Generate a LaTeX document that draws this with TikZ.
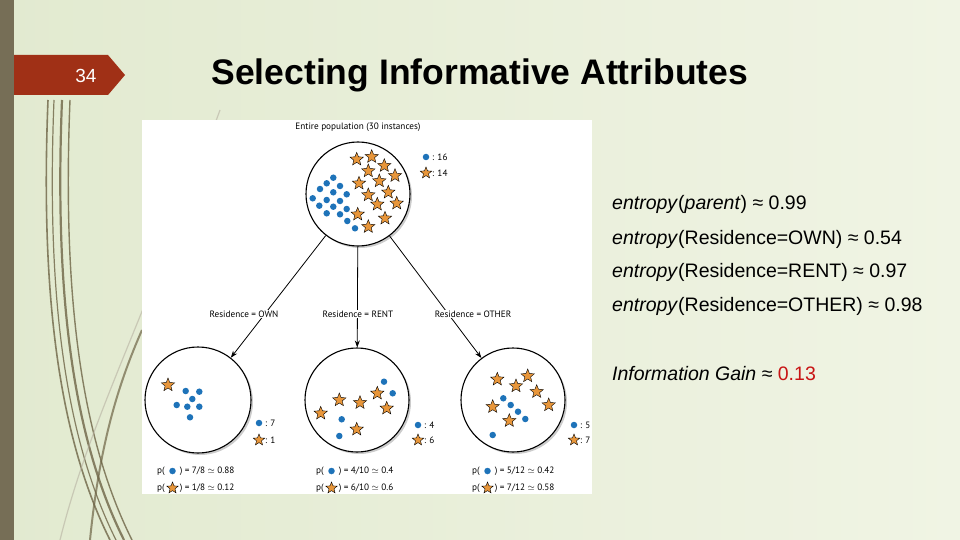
\documentclass[tikz,border=0pt]{standalone}
\usepackage{fontspec}
\setmainfont{Liberation Sans}
\newfontfamily\diag{PT Sans}
\usetikzlibrary{shapes.geometric,arrows.meta}
\definecolor{bgA}{RGB}{226,234,208}
\definecolor{bgB}{RGB}{240,244,228}
\definecolor{barc}{RGB}{118,110,86}
\definecolor{tabc}{RGB}{160,48,22}
\definecolor{dotc}{RGB}{30,115,185}
\definecolor{starc}{RGB}{232,150,58}
\definecolor{vine}{RGB}{110,100,70}
\definecolor{gainred}{RGB}{200,20,20}
\tikzset{
 dot/.style={circle,fill=dotc,inner sep=0pt,minimum size=6.5pt},
 st/.style={star,star points=5,star point ratio=2.3,fill=starc,draw=black,line width=0.4pt,inner sep=0pt,minimum size=14pt},
 pop/.style={circle,draw=black,line width=1.1pt,fill=white,inner sep=0pt},
 lbl/.style={font=\diag\fontsize{9.2}{10}\selectfont,fill=white,inner sep=1pt},
 small/.style={font=\diag\fontsize{9.2}{10}\selectfont,anchor=west,inner sep=0pt},
 arr/.style={-{Stealth[length=7pt,width=5pt]},line width=0.8pt},
 rtext/.style={anchor=west,font=\fontsize{19.5}{22}\selectfont,inner sep=0pt}
}
\begin{document}
\begin{tikzpicture}[x=1pt,y=-1pt]
\useasboundingbox (0,0) rectangle (960,540);
\shade[left color=bgA,right color=bgB] (0,0) rectangle (960,540);
% vines
\foreach \a/\w in {0/1.6,6/1.2,14/2.2,22/1.4}{
 \draw[vine,line width=\w pt,opacity=0.8] (48+\a,100) .. controls (40+\a,300) and (60+\a,440) .. (110+\a,540);
}
\draw[vine!50,line width=1.2pt,opacity=0.6] (60,540) .. controls (90,420) and (140,330) .. (220,110);
\draw[vine,line width=2pt,opacity=0.7] (90,540) .. controls (100,440) and (120,380) .. (142,330);
\fill[barc] (0,0) rectangle (14,540);
\fill[tabc] (14,55) -- (108,55) -- (125,75) -- (108,95) -- (14,95) -- cycle;
\node[text=white,font=\fontsize{19}{22}\selectfont] (num) at (86,76) {34};
\node[anchor=west,font=\bfseries\fontsize{35.5}{40}\selectfont] (title) at (208,75) {Selecting Informative Attributes};
% image area
\fill[white] (142,120) rectangle (592,494);
\node[font=\diag\fontsize{9.2}{10}\selectfont] (poptxt) at (358,127) {Entire population (30 instances)};
\fill[gray!40] (360,196) circle (52);
\node[pop,minimum size=104pt] (top) at (358,194) {};
\fill[gray!40] (200,402) circle (53);
\fill[gray!40] (359,402) circle (52);
\fill[gray!40] (515,402) circle (52);
\node[pop,minimum size=106pt] (cl) at (198,400) {};
\node[pop,minimum size=104pt] (cm) at (357,400) {};
\node[pop,minimum size=104pt] (cr) at (513,400) {};
\draw[arr] (top) -- (cl);
\draw[arr] (top) -- (cm);
\draw[arr] (top) -- (cr);
\node[lbl] (l1) at (244,314) {Residence = OWN};
\node[lbl] (l2) at (358,314) {Residence = RENT};
\node[lbl] (l3) at (473,314) {Residence = OTHER};
% top population
\foreach \x/\y in {333.3/177.7,326.7/183.3,340/186,320/189,333.3/192.3,346.7/194.3,312.7/198.3,326.7/200,340/201,319.3/205.7,333.3/206.7,346.7/209,326.7/213.3,340/214.3,347.3/221,355/228.3}
 \node[dot] at (\x,\y) {};
\foreach \x/\y in {356.7/159.3,371.7/156.7,368.3/171,384.3/165.7,395/175.7,359/183.3,379.3/181,368.3/195,388.3/192.3,377.3/204.3,396.7/203.3,357.7/214.3,385/218.3,368.3/226.7}
 \node[st] at (\x,\y) {};
\node[dot] (tl1) at (426,157) {};
\node[small] at (432,157) {: 16};
\node[st,minimum size=12pt] (tl2) at (426,173) {};
\node[small] at (432,173) {: 14};
% left
\node[st] at (168,385) {};
\foreach \x/\y in {185.7/391,199.3/391.7,192.3/399,176.7/405,187.3/406.7,199.3/406.7,190/417.3}
 \node[dot] at (\x,\y) {};
\node[dot] at (259,423) {};
\node[small] at (265,423) {: 7};
\node[st,minimum size=12pt] at (259,440) {};
\node[small] at (265,440) {: 1};
% middle
\foreach \x/\y in {384/381.7,392.7/393.3,341.7/419.3,339.3/436}
 \node[dot] at (\x,\y) {};
\foreach \x/\y in {320.7/413.3,339.3/400,360/402.7,377.3/393.3,386.7/408.3,356.7/429.3}
 \node[st] at (\x,\y) {};
\node[dot] at (418,425) {};
\node[small] at (424,425) {: 4};
\node[st,minimum size=12pt] at (418,440) {};
\node[small] at (424,440) {: 6};
% right
\foreach \x/\y in {503.3/398.3,510.7/405,518/411.7,525.3/419,492.7/435}
 \node[dot] at (\x,\y) {};
\foreach \x/\y in {497.3/379.3,516/386,527.7/376,536.7/391.7,548.7/405,492.7/406.7,509.3/420.7}
 \node[st] at (\x,\y) {};
\node[dot] at (574,425) {};
\node[small] at (580,425) {: 5};
\node[st,minimum size=12pt] at (574,440) {};
\node[small] at (580,440) {: 7};
% probabilities
\foreach \x/\a/\b in {157/{7/8 $\simeq$ 0.88}/{1/8 $\simeq$ 0.12},316/{4/10 $\simeq$ 0.4}/{6/10 $\simeq$ 0.6},472/{5/12 $\simeq$ 0.42}/{7/12 $\simeq$ 0.58}}{
 \node[small] at (\x,471) {p(\hspace{15pt}) = \a};
 \node[dot] at (\x+15.5,471) {};
 \node[small] at (\x,488) {p(\hspace{15pt}) = \b};
 \node[st,minimum size=12pt] at (\x+15.5,488) {};
}
% right text
\node[rtext] (e1) at (612,204) {\textit{entropy}(\textit{parent}) ≈ 0.99};
\node[rtext] (e2) at (612,239) {\textit{entropy}(Residence=OWN) ≈ 0.54};
\node[rtext] (e3) at (612,272) {\textit{entropy}(Residence=RENT) ≈ 0.97};
\node[rtext] (e4) at (612,306) {\textit{entropy}(Residence=OTHER) ≈ 0.98};
\node[rtext] (ig) at (612,374) {\textit{Information Gain} ≈ \textcolor{gainred}{0.13}};
\end{tikzpicture}
\end{document}
